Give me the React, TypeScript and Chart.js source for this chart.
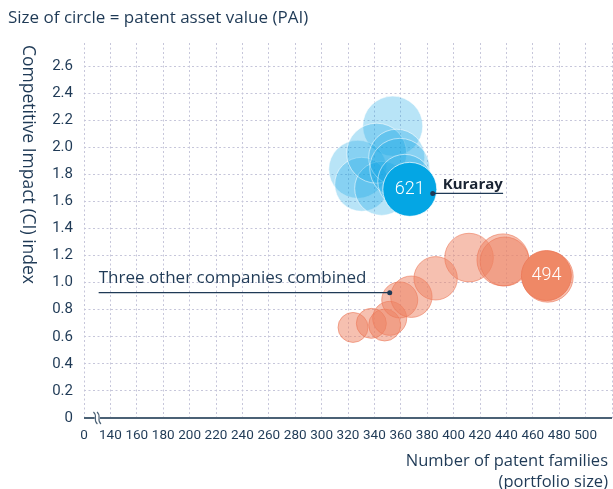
import React, { useEffect, useRef } from 'react';
import { Chart, registerables, BubbleController } from 'chart.js';
Chart.register(...registerables);
// keep the plot area fixed: do not reserve extra room for bubble radii
(BubbleController.prototype as any).getMaxOverflow = function () { return 0; };

// X axis: value 120 is displayed as "0" (axis break)
const X_MIN = 120;
const X_MAX = 520;
const X_STEP = 20;
const X_LAST_LABEL = 500;
const X_BREAK_LABEL = '0';
const Y_MIN = 0;
const Y_MAX = 2.77;
const Y_STEP = 0.2;

// Kuraray (blue) – earlier years, translucent
const kurarayX = [353.9, 327.4, 330.4, 345.5, 341.7, 356.9, 359.2, 363.0];
const kurarayY = [2.156, 1.837, 1.726, 1.696, 1.956, 1.926, 1.844, 1.748];
const kurarayR = [30, 29, 27, 27, 30, 28, 30, 27];
// Kuraray latest (solid)
const kurarayLatestX = [366.8];
const kurarayLatestY = [1.689];
const kurarayLatestR = [27];
const kurarayLatestLabel = '621';

// Three other companies combined (orange) – earlier years, translucent
const othersX = [323.8, 337.7, 347.8, 351.6, 359.2, 368.0, 386.4, 411.7, 437.4, 438.7, 471.3];
const othersY = [0.669, 0.699, 0.687, 0.736, 0.872, 0.896, 1.032, 1.185, 1.168, 1.156, 1.044];
const othersR = [15, 15, 16, 17, 18, 20.7, 21.7, 24.3, 26, 24.5, 25.5];
// Others latest (solid)
const othersLatestX = [470.3];
const othersLatestY = [1.052];
const othersLatestR = [25];
const othersLatestLabel = '494';

// annotation anchors (data coordinates)
const kurarayLabel = 'Kuraray';
const kurarayAnchor = { x: 384.2, y: 1.659, endX: 437.5 };
const othersLabel = 'Three other companies combined';
const othersAnchor = { x: 351.6, y: 0.926, startX: 131.1 };

const TITLE = 'Size of circle = patent asset value (PAI)';
const Y_TITLE = 'Competitive Impact (CI) index';
const X_TITLE = ['Number of patent families', '(portfolio size)'];

const NAVY = '#1f3a56';
const FONT = '"Open Sans", "Noto Sans", sans-serif';
const TICK_FONT = 'Roboto, sans-serif';

const zip = (xs: number[], ys: number[], rs: number[]) =>
  xs.map((x, i) => ({ x, y: ys[i], r: rs[i] }));

export default function App() {
  const ref = useRef<HTMLCanvasElement | null>(null);
  useEffect(() => {
    if (!ref.current) return;
    const textPlugin = {
      id: 'texts',
      afterDraw(chart: any) {
        const { ctx, scales, chartArea } = chart;
        const xs = scales.x;
        const ys = scales.y;
        ctx.save();
        // solid x axis line
        ctx.strokeStyle = '#4b6175';
        ctx.lineWidth = 2;
        ctx.beginPath();
        ctx.moveTo(chartArea.left, chartArea.bottom);
        ctx.lineTo(chartArea.right, chartArea.bottom);
        ctx.stroke();
        // axis break symbol
        const bx = xs.getPixelForValue(X_MIN + X_STEP / 2);
        const by = chartArea.bottom;
        ctx.fillStyle = '#ffffff';
        ctx.fillRect(bx - 2.5, by - 3, 5, 6);
        ctx.lineWidth = 1.1;
        for (const off of [-1.8, 1.8]) {
          ctx.beginPath();
          ctx.moveTo(bx + off - 2, by - 6);
          ctx.bezierCurveTo(bx + off + 3, by - 2, bx + off - 3, by + 2, bx + off + 2, by + 6);
          ctx.stroke();
        }

        // bubble value labels
        ctx.fillStyle = '#ffffff';
        ctx.textAlign = 'center';
        ctx.textBaseline = 'middle';
        ctx.font = `300 18px ${TICK_FONT}`;
        ctx.fillText(kurarayLatestLabel, xs.getPixelForValue(kurarayLatestX[0]), ys.getPixelForValue(kurarayLatestY[0]));
        ctx.fillText(othersLatestLabel, xs.getPixelForValue(othersLatestX[0]), ys.getPixelForValue(othersLatestY[0]));

        // Kuraray annotation
        ctx.strokeStyle = NAVY;
        ctx.fillStyle = NAVY;
        ctx.lineWidth = 1.3;
        let ax = xs.getPixelForValue(kurarayAnchor.x);
        let ay = ys.getPixelForValue(kurarayAnchor.y);
        const ex = xs.getPixelForValue(kurarayAnchor.endX);
        ctx.beginPath();
        ctx.moveTo(ax, ay);
        ctx.lineTo(ex, ay);
        ctx.stroke();
        ctx.beginPath();
        ctx.arc(ax, ay, 2.5, 0, Math.PI * 2);
        ctx.fill();
        ctx.fillStyle = '#1a2433';
        ctx.font = `bold 15px ${FONT}`;
        ctx.textAlign = 'left';
        ctx.textBaseline = 'alphabetic';
        ctx.fillText(kurarayLabel, ax + 10, ay - 4);

        // Others annotation
        ctx.fillStyle = NAVY;
        ax = xs.getPixelForValue(othersAnchor.x);
        ay = ys.getPixelForValue(othersAnchor.y);
        const sx = xs.getPixelForValue(othersAnchor.startX);
        ctx.beginPath();
        ctx.moveTo(sx, ay);
        ctx.lineTo(ax, ay);
        ctx.stroke();
        ctx.beginPath();
        ctx.arc(ax, ay, 2.5, 0, Math.PI * 2);
        ctx.fill();
        ctx.font = `500 17px ${FONT}`;
        ctx.fillText(othersLabel, sx, ay - 10);

        // titles
        ctx.fillStyle = NAVY;
        ctx.font = `17px ${FONT}`;
        ctx.textAlign = 'left';
        ctx.textBaseline = 'middle';
        ctx.fillText(TITLE, 8, 18);
        ctx.save();
        ctx.translate(28, 45);
        ctx.rotate(Math.PI / 2);
        ctx.font = `17.5px ${FONT}`;
        ctx.fillText(Y_TITLE, 0, 0);
        ctx.restore();
        ctx.font = `16.5px ${FONT}`;
        ctx.textAlign = 'right';
        ctx.fillText(X_TITLE[0], 608, 461);
        ctx.fillText(X_TITLE[1], 608, 482);
        ctx.restore();
      },
    };

    const chart = new Chart(ref.current, {
      type: 'bubble',
      data: {
        datasets: [
          {
            label: 'Kuraray latest',
            data: zip(kurarayLatestX, kurarayLatestY, kurarayLatestR),
            backgroundColor: '#04a6e4',
            borderColor: 'rgba(255,255,255,0.7)',
            borderWidth: 1,
            clip: false,
          },
          {
            label: 'Others latest',
            data: zip(othersLatestX, othersLatestY, othersLatestR),
            backgroundColor: '#ef8866',
            borderColor: 'rgba(236,120,88,0.8)',
            borderWidth: 1,
            clip: false,
          },
          {
            label: 'Kuraray',
            data: zip(kurarayX, kurarayY, kurarayR),
            backgroundColor: 'rgba(20,165,228,0.3)',
            borderColor: 'rgba(255,255,255,0.55)',
            borderWidth: 1,
            clip: false,
          },
          {
            label: 'Others',
            data: zip(othersX, othersY, othersR),
            backgroundColor: 'rgba(238,130,98,0.5)',
            borderColor: 'rgba(236,120,88,0.6)',
            borderWidth: 1,
            clip: false,
          },
        ],
      },
      options: {
        animation: false,
        responsive: false,
        layout: { autoPadding: false, padding: { top: 43, right: 1, left: 0, bottom: 0 } },
        plugins: { legend: { display: false }, tooltip: { enabled: false } },
        scales: {
          x: {
            type: 'linear',
            min: X_MIN,
            max: X_MAX,
            afterFit: (s: any) => { s.height = 71; s.paddingRight = 0; s.paddingLeft = 0; },
            afterBuildTicks: (s: any) => {
              s.ticks = s.ticks.filter((t: any) => Math.abs(((t.value - X_MIN) / X_STEP) - Math.round((t.value - X_MIN) / X_STEP)) < 1e-6);
            },
            ticks: {
              stepSize: X_STEP,
              padding: 10,
              color: NAVY,
              font: { family: TICK_FONT, size: 13.5 },
              maxRotation: 0,
              autoSkip: false,
              callback: (v: any) => (v === X_MIN ? X_BREAK_LABEL : v > X_LAST_LABEL ? '' : String(v)),
            },
            grid: { color: '#c6c6da', lineWidth: 1, drawTicks: false },
            border: { display: false, dash: [2, 2.5] },
          },
          y: {
            type: 'linear',
            min: Y_MIN,
            max: Y_MAX,
            afterFit: (s: any) => { s.width = 84; s.paddingTop = 0; s.paddingBottom = 0; },
            afterBuildTicks: (s: any) => {
              s.ticks = s.ticks.filter((t: any) => Math.abs(t.value / Y_STEP - Math.round(t.value / Y_STEP)) < 1e-6);
            },
            ticks: {
              stepSize: Y_STEP,
              padding: 11,
              color: NAVY,
              font: { family: TICK_FONT, size: 15 },
              callback: (v: any) => (v === 0 ? '0' : Number(v).toFixed(1)),
            },
            grid: { color: '#c6c6da', lineWidth: 1, drawTicks: false },
            border: { display: false, dash: [2, 2.5] },
          },
        },
      },
      plugins: [textPlugin],
    });
    return () => chart.destroy();
  }, []);
  return (
    <div style={{ position: 'fixed', left: 0, top: 0, width: 613, height: 489, background: '#fff' }}>
      <canvas ref={ref} width={613} height={489} style={{ width: 613, height: 489 }} />
    </div>
  );
}
